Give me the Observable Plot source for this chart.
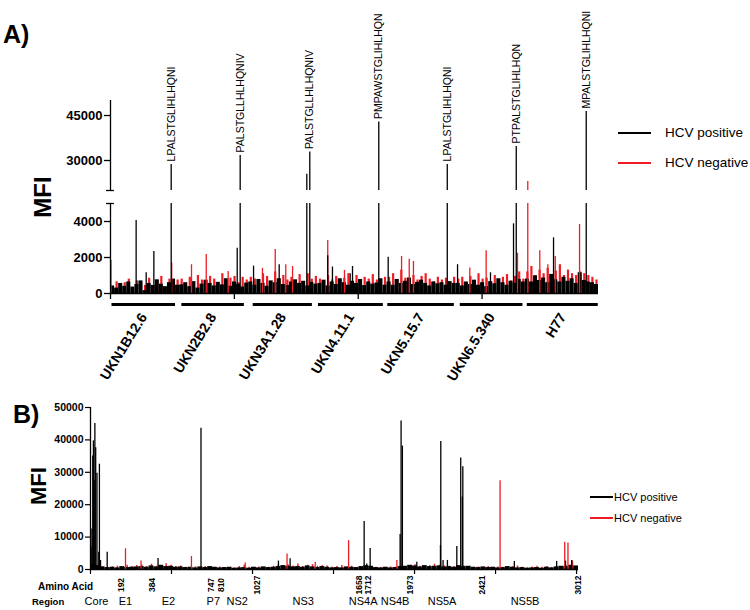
<!DOCTYPE html>
<html><head><meta charset="utf-8">
<script src="https://cdn.jsdelivr.net/npm/d3@7"></script>
<script src="https://cdn.jsdelivr.net/npm/@observablehq/plot@0.6"></script>
<style>
body{margin:0;background:#fff;}
#wrap{position:relative;width:750px;height:610px;font-family:'Liberation Sans',Arial,Helvetica,sans-serif;color:#000;overflow:hidden;background:#fff}
.abs{position:absolute;white-space:nowrap;line-height:1}
.ln{position:absolute;height:2px}
.pl{position:absolute;left:0}
svg{overflow:visible}
g[aria-label="y-axis tick label"] text{font-weight:bold}
</style></head><body>
<div id="wrap">
  <div id="pa1" class="pl" style="top:0"></div>
  <div id="pa2" class="pl" style="top:0"></div>
  <div id="pb" class="pl" style="top:390px"></div>
  <div class="abs" style="left:3px;top:22px;font-size:25px;font-weight:bold">A)</div>
  <div class="abs" style="left:13px;top:402px;font-size:25px;font-weight:bold">B)</div>
  <div class="abs" style="left:13px;top:185px;width:60px;height:24px;line-height:24px;text-align:center;font-size:24px;font-weight:bold;transform:rotate(-90deg)">MFI</div>
  <div class="abs" style="left:9px;top:475px;width:60px;height:22px;line-height:22px;text-align:center;font-size:22px;font-weight:bold;transform:rotate(-90deg)">MFI</div>
  <div class="ln" style="left:618px;top:132px;width:33px;background:#000"></div>
  <div class="abs" style="left:665px;top:126px;font-size:13.5px">HCV positive</div>
  <div class="ln" style="left:618px;top:162px;width:33px;background:#ee1c24"></div>
  <div class="abs" style="left:665px;top:156px;font-size:13.5px">HCV negative</div>
  <div class="ln" style="left:590px;top:496px;width:23px;background:#000"></div>
  <div class="abs" style="left:614px;top:491.5px;font-size:11px">HCV positive</div>
  <div class="ln" style="left:590px;top:517px;width:23px;background:#ee1c24"></div>
  <div class="abs" style="left:614px;top:512.5px;font-size:11px">HCV negative</div>
  <div class="abs" style="left:38px;top:582px;font-size:10px;font-weight:bold">Amino Acid</div>
  <div class="abs" style="left:32px;top:596.5px;font-size:9.5px;font-weight:bold">Region</div>
</div>
<script>
// ---------- Panel A data ----------
const genotypes = ["UKN1B12.6","UKN2B2.8","UKN3A1.28","UKN4.11.1","UKN5.15.7","UKN6.5.340","H77"];
const genoStart = [12, 576, 1152, 1679, 2239, 2824, 3365];
const genoEnd   = [525, 1081, 1630, 2203, 2776, 3330, 3938];

// background MFI (per block of peptides), HCV positive
const aPosBase = [
  420,300,560,400,640,360,500,700,160,560,450,760,520,380,600,800,460,
  480,600,380,660,300,520,740,560,420,620,480,820,400,640,520,360,580,
  640,460,780,560,400,700,600,820,500,440,640,760,560,680,420,620,520,
  560,740,420,640,500,820,600,460,680,560,780,440,640,520,580,820,460,
  640,460,780,560,680,860,500,620,740,560,420,640,540,600,460,660,560,
  560,420,640,500,740,460,600,380,660,540,820,600,460,680,560,780,640,
  800,640,980,720,860,600,1060,760,640,900,680,820,560,1150,720,640,600,500
];
// background MFI, HCV negative
const aNegBase = [
  300,650,350,600,800,300,700,500,450,850,400,700,950,300,800,600,750,
  800,500,900,600,1000,750,500,950,800,600,1100,700,850,950,600,900,750,
  900,800,700,1100,950,600,1200,800,1000,750,900,700,1050,600,1100,800,950,
  800,600,1000,750,950,700,850,1100,650,1000,700,900,800,1050,750,650,900,
  900,1100,700,1300,850,800,1000,750,950,1100,800,650,900,750,850,600,900,
  800,900,600,950,700,1100,800,850,600,1000,750,900,1050,700,950,1200,800,
  1200,1500,1000,1300,1100,1400,950,1250,1600,1000,1300,1100,1000,1200,1100,1000,900,750
];
const aPosPeptide = [207,288,350,490,1023,1047,1155,1362,1585,1609,1754,1792,1935,1954,2166,2242,2719,2802,3068,3254,3276,3577,3841];
const aPosMFI     = [4050,1150,2330,28700,2520,31700,1520,1600,25400,32800,2100,1470,1100,1500,42800,2020,28700,1600,1150,3870,34700,3090,46300];
const aNegPeptide = [4,494,654,773,950,1227,1330,1415,1470,1754,1889,2350,2412,2446,2901,3033,3286,3369,3466,3531,3591,3787];
const aNegMFI     = [1830,1700,1600,2170,1220,1400,2440,1600,1500,2940,1280,2060,1900,1780,1420,2380,2240,23000,2380,1600,2060,3830];
const peptideLabels  = ["LPALSTGLIHLHQNI","PALSTGLLHLHQNIV","PALSTGLLHLHQNIV","PMPAWSTGLIHLHQN","LPALSTGLIHLHQNI","PTPALSTGLIHLHQN","MPALSTGLIHLHQNI"];
const peptideLabelAt = [490,1047,1609,2166,2719,3276,3841];
const aYTicksLow  = [0,2000,4000];
const aYTicksHigh = [30000,45000];
const aXTicks = [0,1000,2000,3000];

// ---------- Panel B data ----------
const aaTicks = [192,384,747,810,1027,1658,1712,1973,2421,3012];
const regions  = ["Core","E1","E2","P7","NS2","NS3","NS4A","NS4B","NS5A","NS5B"];
const regionAt = [37,216,481,758,906,1313,1683,1880,2170,2682];
const bPosBase = [
  1500,1200,800,600,700,500,900,600,700,800,
  900,700,1100,800,1300,900,1000,700,800,600,
  700,500,800,600,900,700,500,600,700,400,
  500,600,400,700,500,800,600,700,900,1200,
  1000,800,900,700,1100,800,600,900,700,500,
  600,500,800,700,600,900,1200,1000,600,500,
  700,500,600,900,1000,1300,1100,800,1200,900,
  1000,1100,800,900,700,1200,900,1000,700,600,
  800,600,700,500,600,900,700,500,600,400,
  500,600,400,700,500,800,1000,900,1300,1100
];
const bNegBase = [
  400,600,900,500,800,1000,600,1300,900,1200,
  1400,900,1600,1000,1200,1800,1300,900,1100,700,
  600,800,500,900,700,500,800,400,600,500,
  900,1300,700,600,800,500,700,1000,1500,1100,
  1400,1100,1700,900,1300,1500,1000,1200,1100,800,
  900,1200,600,1000,500,700,900,800,700,600,
  500,800,700,1100,800,1200,1500,1000,900,1200,
  1600,1300,1100,1000,900,700,1100,800,600,800,
  600,900,500,800,700,600,900,1100,700,500,
  800,1000,700,900,600,1000,800,1100,900,700
];
const bPosAA  = [4,9,14,18,23,27,32,40,51,55,62,103,417,682,1160,1232,1689,1705,1726,1911,1917,1925,2014,2160,2162,2176,2203,2261,2285,2295,2298,2616,2877,2932,2970];
const bPosMFI = [6900,12500,35000,39700,27400,45100,37600,29700,5300,32500,2800,5300,3400,43600,2600,3300,14800,1700,6500,10800,45800,38100,2200,7400,39500,2800,2800,7100,34400,22400,31700,2500,2500,2600,2800];
const bNegAA  = [216,312,623,955,1213,1387,1593,1891,2528,2927,2947,2975];
const bNegMFI = [6400,2600,4000,2000,4800,2200,8900,2800,27400,8400,8200,2600];
const bYTicks = [0,10000,20000,30000,40000,50000];
const bXTicks = [0,500,1000,1500,2000,2500,3000];

// ---------- helpers ----------
const RED = "#ee1c24";
const FONT = "'Liberation Sans', Arial, Helvetica, sans-serif";
const STYLE = {fontFamily: FONT, background: "transparent", overflow: "visible", color: "#000"};
const binRows = (arr, total) => { const s = total / arr.length; return arr.map((v, i) => ({x1: i*s, x2: (i+1)*s, xm: (i+0.5)*s, v})); };
const pts = (xs, vs) => xs.map((x, i) => ({x, v: vs[i]}));

// ---------- Panel A (broken axis: two stacked plots sharing x) ----------
const A_MAX = 3940;
const LOW_TOP = 5000, HIGH_BOT = 20000, HIGH_TOP = 50000;
const aPosBins = binRows(aPosBase, A_MAX);
const aNegBins = binRows(aNegBase, A_MAX);
const aPos = pts(aPosPeptide, aPosMFI);
const aNeg = pts(aNegPeptide, aNegMFI);
const lowPart = d => Math.min(d.v, LOW_TOP);
const labelRows = peptideLabels.map((t, i) => ({t, x: peptideLabelAt[i], v: aPosMFI[aPosPeptide.indexOf(peptideLabelAt[i])]}));
const genoRows = genotypes.map((g, i) => ({g, x1: genoStart[i], x2: genoEnd[i], xm: (genoStart[i] + genoEnd[i]) / 2}));

// upper segment: 20000-50000
const chartA1 = Plot.plot({
  width: 750, height: 200,
  marginLeft: 110, marginRight: 152, marginTop: 100, marginBottom: 10,
  x: {domain: [0, A_MAX], axis: null},
  y: {domain: [HIGH_BOT, HIGH_TOP]},
  style: STYLE,
  marks: [
    Plot.ruleX(aNeg.filter(d => d.v > HIGH_BOT), {x: "x", y1: HIGH_BOT, y2: "v", stroke: RED, strokeWidth: 1.3}),
    Plot.ruleX(aPos.filter(d => d.v > HIGH_BOT), {x: "x", y1: HIGH_BOT, y2: "v", stroke: "#000", strokeWidth: 1.3}),
    Plot.ruleX([0], {y1: HIGH_BOT, y2: HIGH_TOP, stroke: "#000", strokeWidth: 1.3}),
    Plot.ruleY([HIGH_BOT], {x1: -32, x2: 32, stroke: "#000", strokeWidth: 1.3}),
    Plot.axisY({ticks: aYTicksHigh, tickSize: 6, tickPadding: 2, fontSize: 13, fontWeight: "bold", tickFormat: d => String(d), label: null, strokeWidth: 1.3}),
    Plot.text(labelRows, {x: "x", y: "v", text: "t", rotate: -90, textAnchor: "start", dy: -3, fontSize: 10.5, fill: "#000"})
  ]
});
document.getElementById("pa1").appendChild(chartA1);

// lower segment: 0-5000
const chartA2 = Plot.plot({
  width: 750, height: 390,
  marginLeft: 110, marginRight: 152, marginTop: 203, marginBottom: 97,
  x: {domain: [0, A_MAX]},
  y: {domain: [0, LOW_TOP]},
  style: STYLE,
  marks: [
    Plot.ruleX(aNegBins, {x: "xm", y1: 0, y2: "v", stroke: RED, strokeWidth: 2.2}),
    Plot.rect(aPosBins, {x1: "x1", x2: "x2", y1: 0, y2: "v", fill: "#000"}),
    Plot.ruleX(aNeg, {x: "x", y1: 0, y2: lowPart, stroke: RED, strokeWidth: 1.3}),
    Plot.ruleX(aPos, {x: "x", y1: 0, y2: lowPart, stroke: "#000", strokeWidth: 1.3}),
    Plot.ruleX([0], {y1: 0, y2: LOW_TOP, stroke: "#000", strokeWidth: 1.3}),
    Plot.ruleY([LOW_TOP], {x1: -32, x2: 32, stroke: "#000", strokeWidth: 1.3}),
    Plot.ruleY([0], {x1: 0, x2: A_MAX, stroke: "#000", strokeWidth: 1.5}),
    Plot.axisY({ticks: aYTicksLow, tickSize: 6, tickPadding: 2, fontSize: 13, fontWeight: "bold", tickFormat: d => String(d), label: null, strokeWidth: 1.3}),
    Plot.axisX({ticks: aXTicks, tickSize: 6, tickFormat: () => "", label: null, strokeWidth: 1.3}),
    Plot.ruleY(genoRows, {x1: "x1", x2: "x2", y: () => 0, dy: 11, stroke: "#000", strokeWidth: 3.2}),
    Plot.text(genoRows, {x: "xm", y: () => 0, text: "g", rotate: -58, textAnchor: "end", dy: 21, fontSize: 14, fontWeight: "bold", fill: "#000"})
  ]
});
document.getElementById("pa2").appendChild(chartA2);

// ---------- Panel B ----------
const B_MAX = 3012;
const bPosBins = binRows(bPosBase, B_MAX);
const bNegBins = binRows(bNegBase, B_MAX);
const bPos = pts(bPosAA, bPosMFI);
const bNeg = pts(bNegAA, bNegMFI);
const regionRows = regions.map((r, i) => ({r, x: regionAt[i]}));

const chartB = Plot.plot({
  width: 750, height: 220,
  marginLeft: 90, marginRight: 172, marginTop: 17, marginBottom: 41,
  x: {domain: [0, B_MAX]},
  y: {domain: [0, 50000]},
  style: STYLE,
  marks: [
    Plot.ruleX(bNegBins, {x: "xm", y1: 0, y2: "v", stroke: RED, strokeWidth: 1.5}),
    Plot.rect(bPosBins, {x1: "x1", x2: "x2", y1: 0, y2: "v", fill: "#000"}),
    Plot.ruleX(bNeg, {x: "x", y1: 0, y2: "v", stroke: RED, strokeWidth: 1.3}),
    Plot.ruleX(bPos, {x: "x", y1: 0, y2: "v", stroke: "#000", strokeWidth: 1.3}),
    Plot.ruleX([0], {y1: 0, y2: 50000, stroke: "#000", strokeWidth: 1.3}),
    Plot.ruleY([0], {x1: 0, x2: B_MAX, stroke: "#000", strokeWidth: 1.3}),
    Plot.axisY({ticks: bYTicks, tickSize: 5, tickPadding: 2, fontSize: 10.5, fontWeight: "bold", tickFormat: d => String(d), label: null, strokeWidth: 1.2}),
    Plot.axisX({ticks: bXTicks, tickSize: 5, tickFormat: () => "", label: null, strokeWidth: 1.2}),
    Plot.text(aaTicks, {x: d => d, y: () => 0, text: d => String(d), rotate: -90, textAnchor: "middle", dy: 15.5, fontSize: 8.5, fontWeight: "bold", fill: "#000"}),
    Plot.text(regionRows, {x: "x", y: () => 0, text: "r", dy: 32, fontSize: 11, fill: "#000"})
  ]
});
document.getElementById("pb").appendChild(chartB);
</script>
</body></html>
